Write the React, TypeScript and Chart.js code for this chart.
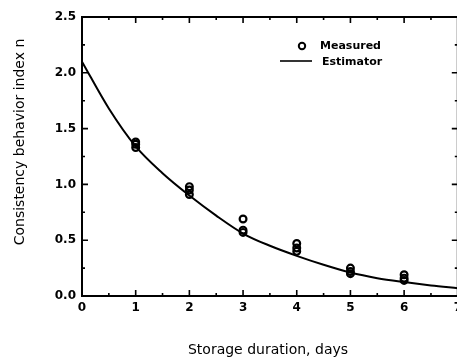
import React, { useEffect, useRef } from 'react';
import { Chart, registerables } from 'chart.js';
Chart.register(...registerables);

// Measured consistency behavior index n per storage day (several replicates)
const measuredDays = [1, 1, 1, 2, 2, 2, 3, 3, 3, 4, 4, 4, 5, 5, 5, 6, 6, 6];
const measuredN = [1.38, 1.36, 1.33, 0.98, 0.95, 0.91, 0.69, 0.59, 0.57, 0.47, 0.43, 0.40, 0.25, 0.22, 0.20, 0.19, 0.16, 0.14];

// Estimator curve
const estDays = [0, 0.5, 1, 1.5, 2, 2.5, 3, 3.5, 4, 4.5, 5, 5.5, 6, 6.5, 7];
const estN = [2.10, 1.68, 1.34, 1.10, 0.90, 0.72, 0.56, 0.45, 0.36, 0.28, 0.21, 0.16, 0.125, 0.095, 0.07];

const xTickValues = [0, 1, 2, 3, 4, 5, 6, 7];
const yTickValues = [0, 0.5, 1.0, 1.5, 2.0, 2.5];

const xTitle = 'Storage duration, days';
const yTitle = 'Consistency behavior index n';
const legendMeasured = 'Measured';
const legendEstimator = 'Estimator';

const FONT = '"DejaVu Sans", sans-serif';

const framePlugin = {
  id: 'frame',
  afterDraw(chart: any) {
    const { ctx, chartArea: a, scales } = chart;
    const xs = scales.x;
    const ys = scales.y;
    ctx.save();
    ctx.strokeStyle = '#000';
    ctx.lineWidth = 2;
    ctx.strokeRect(a.left, a.top, a.right - a.left, a.bottom - a.top);
    ctx.lineWidth = 1.6;
    for (let i = 0; i < xTickValues.length; i++) {
      const v = xTickValues[i];
      const px = xs.getPixelForValue(v);
      ctx.beginPath();
      ctx.moveTo(px, a.bottom); ctx.lineTo(px, a.bottom - 6);
      ctx.moveTo(px, a.top); ctx.lineTo(px, a.top + 6);
      ctx.stroke();
      if (i < xTickValues.length - 1) {
        const m = xs.getPixelForValue((v + xTickValues[i + 1]) / 2);
        ctx.beginPath();
        ctx.moveTo(m, a.bottom); ctx.lineTo(m, a.bottom - 3);
        ctx.moveTo(m, a.top); ctx.lineTo(m, a.top + 3);
        ctx.stroke();
      }
    }
    for (let i = 0; i < yTickValues.length; i++) {
      const v = yTickValues[i];
      const py = ys.getPixelForValue(v);
      ctx.beginPath();
      ctx.moveTo(a.left, py); ctx.lineTo(a.left + 6, py);
      ctx.moveTo(a.right, py); ctx.lineTo(a.right - 6, py);
      ctx.stroke();
      if (i < yTickValues.length - 1) {
        const m = ys.getPixelForValue((v + yTickValues[i + 1]) / 2);
        ctx.beginPath();
        ctx.moveTo(a.left, m); ctx.lineTo(a.left + 3, m);
        ctx.moveTo(a.right, m); ctx.lineTo(a.right - 3, m);
        ctx.stroke();
      }
    }
    ctx.fillStyle = '#000';
    ctx.font = `14px ${FONT}`;
    ctx.textAlign = 'center';
    ctx.textBaseline = 'alphabetic';
    ctx.fillText(xTitle, 268, 354);
    ctx.save();
    ctx.translate(20, 142);
    ctx.rotate(-Math.PI / 2);
    ctx.textBaseline = 'middle';
    ctx.fillText(yTitle, 0, 0);
    ctx.restore();
    ctx.lineWidth = 2;
    ctx.beginPath();
    ctx.arc(302, 46, 3.2, 0, Math.PI * 2);
    ctx.stroke();
    ctx.lineWidth = 1.6;
    ctx.beginPath();
    ctx.moveTo(280, 61); ctx.lineTo(312, 61);
    ctx.stroke();
    ctx.font = `bold 11px ${FONT}`;
    ctx.textAlign = 'left';
    ctx.textBaseline = 'middle';
    ctx.fillText(legendMeasured, 320, 46);
    ctx.fillText(legendEstimator, 322, 62);
    ctx.restore();
  },
};

export default function App() {
  const ref = useRef<HTMLCanvasElement | null>(null);
  useEffect(() => {
    if (!ref.current) return;
    const chart = new Chart(ref.current, {
      type: 'scatter',
      data: {
        datasets: [
          {
            label: legendMeasured,
            data: measuredDays.map((d, i) => ({ x: d, y: measuredN[i] })),
            pointStyle: 'circle',
            pointRadius: 3.4,
            borderWidth: 2.2,
            borderColor: '#000',
            backgroundColor: 'rgba(0,0,0,0)',
            showLine: false,
          },
          {
            label: legendEstimator,
            data: estDays.map((d, i) => ({ x: d, y: estN[i] })),
            showLine: true,
            pointRadius: 0,
            borderColor: '#000',
            borderWidth: 2,
            cubicInterpolationMode: 'monotone',
            fill: false,
          },
        ],
      },
      options: {
        responsive: false,
        animation: false,
        layout: { padding: { top: 17, right: 2, left: 0, bottom: 0 } },
        plugins: { legend: { display: false }, tooltip: { enabled: false } },
        scales: {
          x: {
            type: 'linear',
            min: 0,
            max: 7,
            afterFit: (s: any) => { s.height = 62; s.paddingRight = 0; s.paddingLeft = 0; },
            afterBuildTicks: (s: any) => { s.ticks = xTickValues.map((v) => ({ value: v })); },
            grid: { display: false, drawTicks: false },
            border: { display: false },
            ticks: { color: '#000', padding: 5, font: { family: FONT, size: 12, weight: 'bold' }, maxRotation: 0 },
          },
          y: {
            type: 'linear',
            min: 0,
            max: 2.5,
            afterFit: (s: any) => { s.width = 82; s.paddingTop = 0; s.paddingBottom = 0; },
            afterBuildTicks: (s: any) => { s.ticks = yTickValues.map((v) => ({ value: v })); },
            grid: { display: false, drawTicks: false },
            border: { display: false },
            ticks: {
              color: '#000',
              padding: 6,
              font: { family: FONT, size: 12, weight: 'bold' },
              callback: (v: any) => Number(v).toFixed(1),
            },
          },
        },
      },
      plugins: [framePlugin],
    } as any);
    return () => chart.destroy();
  }, []);
  return (
    <div style={{ position: 'absolute', left: 0, top: 0, width: 457, height: 358, overflow: 'hidden', background: '#fff' }}>
      <canvas ref={ref} width={464} height={358} style={{ display: 'block' }} />
    </div>
  );
}
